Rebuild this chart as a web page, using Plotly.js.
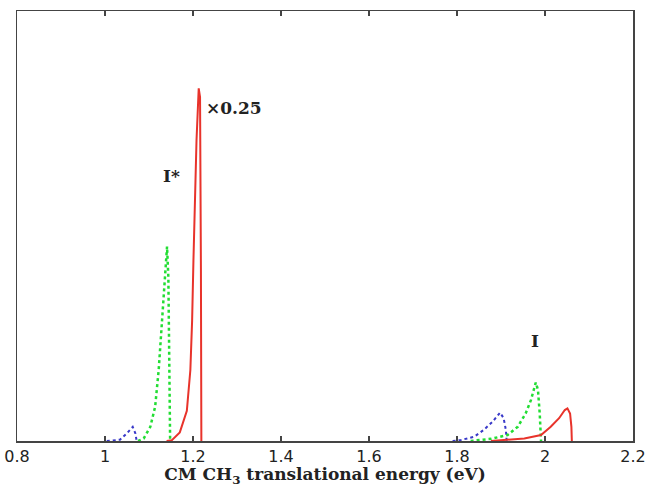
<!DOCTYPE html>
<html>
<head>
<meta charset="utf-8">
<script src="https://cdn.plot.ly/plotly-3.0.1.min.js"></script>
<style>html,body{margin:0;padding:0;background:#fff;}#chart{width:649px;height:487px;}</style>
</head>
<body>
<div id="chart"></div>
<script>
// Left group (I*)
const redLeftX   = [1.140, 1.152, 1.170, 1.186, 1.194, 1.198, 1.201, 1.204, 1.208, 1.213, 1.216, 1.218, 1.219];
const redLeftY   = [0.000, 0.002, 0.020, 0.070, 0.165, 0.280, 0.420, 0.560, 0.700, 0.820, 0.800, 0.400, 0.000];
const greenLeftX = [1.075, 1.088, 1.103, 1.114, 1.122, 1.129, 1.137, 1.141, 1.144, 1.146, 1.148];
const greenLeftY = [0.000, 0.006, 0.033, 0.080, 0.165, 0.281, 0.398, 0.452, 0.380, 0.200, 0.000];
const blueLeftX  = [1.004, 1.034, 1.050, 1.063, 1.069, 1.072];
const blueLeftY  = [0.000, 0.003, 0.018, 0.033, 0.018, 0.000];
// Right group (I)
const blueRightX  = [1.790, 1.808, 1.839, 1.861, 1.881, 1.898, 1.906, 1.911, 1.913];
const blueRightY  = [0.000, 0.002, 0.010, 0.026, 0.045, 0.066, 0.053, 0.026, 0.000];
const greenRightX = [1.831, 1.877, 1.915, 1.938, 1.956, 1.968, 1.979, 1.984, 1.988, 1.991];
const greenRightY = [0.000, 0.005, 0.014, 0.033, 0.064, 0.095, 0.136, 0.119, 0.064, 0.000];
const redRightX   = [1.877, 1.953, 1.991, 2.013, 2.032, 2.045, 2.051, 2.057, 2.060, 2.061];
const redRightY   = [0.000, 0.006, 0.014, 0.033, 0.053, 0.072, 0.076, 0.064, 0.033, 0.000];

const xTicks = [0.8, 1, 1.2, 1.4, 1.6, 1.8, 2, 2.2];
const xTickLabels = ["0.8", "1", "1.2", "1.4", "1.6", "1.8", "2", "2.2"];

const RED = '#e8332b', GREEN = '#22dd33', BLUE = '#3838c8';
function tr(x, y, color, dash, w) {
  return {x: x, y: y, type: 'scatter', mode: 'lines', line: {color: color, dash: dash, width: w}, hoverinfo: 'skip', showlegend: false};
}
const data = [
  tr(blueLeftX, blueLeftY, BLUE, 'dot', 2),
  tr(greenLeftX, greenLeftY, GREEN, 'dot', 2.5),
  tr(redLeftX, redLeftY, RED, 'solid', 2),
  tr(blueRightX, blueRightY, BLUE, 'dot', 2),
  tr(greenRightX, greenRightY, GREEN, 'dot', 2.5),
  tr(redRightX, redRightY, RED, 'solid', 2)
];
const serif = 'DejaVu Serif, serif';
const layout = {
  width: 649, height: 487,
  margin: {l: 17, r: 16, t: 11, b: 46},
  paper_bgcolor: '#fff', plot_bgcolor: '#fff',
  xaxis: {
    range: [0.8, 2.2], tickvals: xTicks, ticktext: xTickLabels,
    ticks: 'inside', ticklen: 5, tickwidth: 1.2, tickcolor: '#444',
    showline: true, linecolor: '#444', linewidth: 1.5, mirror: 'ticks',
    showgrid: false, zeroline: false,
    tickfont: {family: 'DejaVu Sans, sans-serif', size: 16, color: '#222'},
    title: {text: '<b>CM CH<sub>3</sub> translational energy (eV)</b>', font: {family: serif, size: 17, color: '#222'}, standoff: 6}
  },
  yaxis: {
    range: [0, 1], showticklabels: false, ticks: '',
    showline: true, linecolor: '#444', linewidth: 1.5, mirror: true,
    showgrid: false, zeroline: false
  },
  annotations: [
    {x: 1.294, y: 0.774, xref: 'x', yref: 'y', text: '<b>×0.25</b>', showarrow: false, font: {family: serif, size: 17, color: '#222'}},
    {x: 1.151, y: 0.616, xref: 'x', yref: 'y', text: '<b>I*</b>', showarrow: false, font: {family: serif, size: 17, color: '#222'}},
    {x: 1.977, y: 0.233, xref: 'x', yref: 'y', text: '<b>I</b>', showarrow: false, font: {family: serif, size: 17, color: '#222'}}
  ]
};
Plotly.newPlot('chart', data, layout, {staticPlot: true, displayModeBar: false});
</script>
</body>
</html>
